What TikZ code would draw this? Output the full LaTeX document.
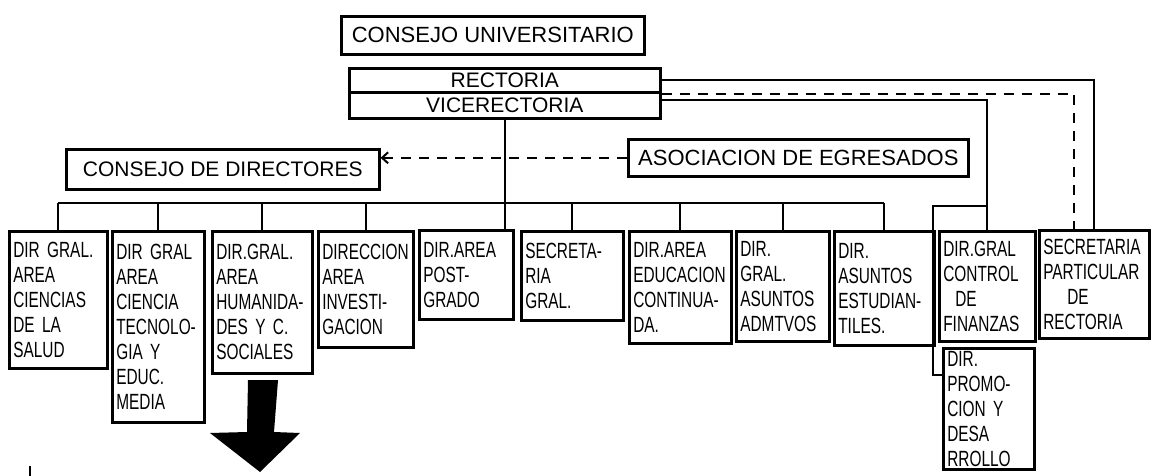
\documentclass[tikz,border=0pt]{standalone}
\usepackage{fontspec}
\usetikzlibrary{arrows.meta}
\newfontfamily\handfont[FakeStretch=0.7]{Liberation Sans}
\newfontfamily\handwide{Liberation Sans}
\begin{document}
\begin{tikzpicture}[x=1pt,y=-1pt,
  box/.style={draw, line width=2.6pt, inner xsep=4pt, inner ysep=2pt, align=left, anchor=north west, font=\handfont\fontsize{22}{25}\selectfont},
  topbox/.style={draw, line width=2.6pt, inner sep=0pt, anchor=north west, font=\handwide\fontsize{22}{26}\selectfont},
  link/.style={line width=2pt},
  dlink/.style={line width=2pt, dash pattern=on 10pt off 8pt}]
\useasboundingbox (0,0) rectangle (1151,476);

% top level
\node[topbox, minimum width=303pt, minimum height=38pt] (cu) at (340,15) {CONSEJO UNIVERSITARIO};
\node[topbox, minimum width=311pt, minimum height=24pt, font=\handwide\fontsize{21}{24}\selectfont] (rec) at (348,67) {RECTORIA};
\node[topbox, minimum width=311pt, minimum height=26pt, font=\handwide\fontsize{21}{24}\selectfont] (vice) at (348,91) {VICERECTORIA};
\node[topbox, minimum width=313pt, minimum height=40pt, font=\handwide\fontsize{21}{26}\selectfont] (cd) at (65,148) {CONSEJO DE DIRECTORES};
\node[topbox, minimum width=340pt, minimum height=37pt] (ae) at (627,138) {ASOCIACION DE EGRESADOS};

% directorates
\node[box, text width=90pt, minimum height=137pt] (b1) at (8,230) {DIR GRAL.\\AREA\\CIENCIAS\\DE LA\\SALUD};
\node[box, text width=84pt, minimum height=191pt] (b2) at (111,230) {DIR GRAL\\AREA\\CIENCIA\\TECNOLO-\\GIA Y\\EDUC.\\MEDIA};
\node[box, text width=92pt, minimum height=142pt] (b3) at (211,230) {DIR.GRAL.\\AREA\\HUMANIDA-\\DES Y C.\\SOCIALES};
\node[box, text width=87pt, minimum height=116pt] (b4) at (317,230) {DIRECCION\\AREA\\INVESTI-\\GACION};
\node[box, text width=86pt, minimum height=89pt] (b5) at (418,229) {DIR.AREA\\POST-\\GRADO};
\node[box, text width=94pt, minimum height=89pt] (b6) at (520,230) {SECRETA-\\RIA\\GRAL.};
\node[box, text width=94pt, minimum height=112pt] (b7) at (628,230) {DIR.AREA\\EDUCACION\\CONTINUA-\\DA.};
\node[box, text width=85pt, minimum height=110pt] (b8) at (735,230) {DIR.\\GRAL.\\ASUNTOS\\ADMTVOS};
\node[box, text width=92pt, minimum height=114pt] (b9) at (833,230) {DIR.\\ASUNTOS\\ESTUDIAN-\\TILES.};
\node[box, text width=88pt, minimum height=110pt] (b10) at (938,230) {DIR.GRAL\\CONTROL\\\hspace*{12pt}DE\\FINANZAS};
\node[box, text width=102pt, minimum height=108pt] (b11) at (1038,229) {SECRETARIA\\PARTICULAR\\\hspace*{24pt}DE\\RECTORIA};
\node[box, text width=83pt, minimum height=121pt] (b12) at (942,347) {DIR.\\PROMO-\\CION Y\\DESA\\RROLLO};

% connectors
\coordinate (bus) at (0,203);
\coordinate (k) at (933,206);
\draw[link] (vice.south) -- (vice.south |- b5.north);
\draw[link] (b1.north |- bus) -- (b9.north |- bus);
\foreach \b in {b1,b2,b3,b4,b6,b7,b8,b9} \draw[link] (\b.north) -- (\b.north |- bus);
\draw[link] (rec.east) -| (b11.north);
\draw[dlink] ([yshift=-3pt]vice.north east) -| ([xshift=-20pt]b11.north);
\draw[link] ([yshift=-9pt]vice.north east) -| (b10.north);
\draw[link] (b10.north |- k) -- (k) |- ([yshift=-28pt]b12.north west);
\draw[dlink, -{Straight Barb[length=6pt,width=11pt]}] (ae.west) -- (ae.west -| cd.east);

% big arrow
\fill (248,380) -- (278,380) -- (274,432) -- (300,433) -- (260,472) -- (210,433) -- (247,432) -- cycle;
% small mark
\draw[line width=1.5pt] (30,466) -- (30,476);
\end{tikzpicture}
\end{document}
